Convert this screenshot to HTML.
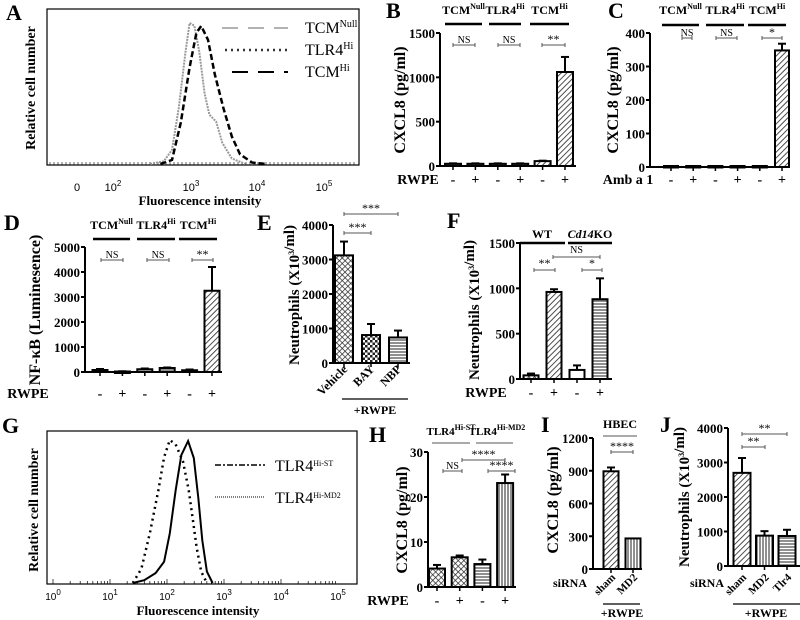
<!DOCTYPE html>
<html><head><meta charset="utf-8">
<style>
html,body{margin:0;padding:0;background:#fff;}
svg{display:block;font-family:"Liberation Serif",serif;}
</style></head>
<body>
<svg id="fig" width="800" height="620" viewBox="0 0 800 620" xmlns="http://www.w3.org/2000/svg">
<defs>
<pattern id="diag" width="4" height="4" patternUnits="userSpaceOnUse" patternTransform="rotate(45)"><rect width="4" height="4" fill="#fff"/><line x1="0" y1="0" x2="0" y2="4" stroke="#222" stroke-width="1.6"/></pattern>
<pattern id="cross" width="4" height="4" patternUnits="userSpaceOnUse" patternTransform="rotate(45)"><rect width="4" height="4" fill="#fff"/><line x1="0" y1="0" x2="0" y2="4" stroke="#222" stroke-width="1.4"/><line x1="0" y1="0" x2="4" y2="0" stroke="#222" stroke-width="1.4"/></pattern>
<pattern id="check" width="5" height="5" patternUnits="userSpaceOnUse"><rect width="5" height="5" fill="#fff"/><rect width="2.5" height="2.5" fill="#222"/><rect x="2.5" y="2.5" width="2.5" height="2.5" fill="#222"/></pattern>
<pattern id="hl" width="4" height="3" patternUnits="userSpaceOnUse"><rect width="4" height="3" fill="#fff"/><line x1="0" y1="1" x2="4" y2="1" stroke="#222" stroke-width="1"/></pattern>
<pattern id="vl" width="3" height="4" patternUnits="userSpaceOnUse"><rect width="3" height="4" fill="#fff"/><line x1="1" y1="0" x2="1" y2="4" stroke="#222" stroke-width="1"/></pattern>
</defs>
</svg>
<script>
// ---- data ----
const bVals=[25,25,25,25,55,1060], bErr=[5,5,5,5,5,170];
const cVals=[3,3,3,3,3,348], cErr=[0,0,0,0,0,20];
const dVals=[80,20,110,160,70,3250], dErr=[40,10,30,20,30,950];
const eVals=[3120,810,740], eErr=[400,320,200];
const fVals=[40,960,100,880], fErr=[20,30,50,230];
const hVals=[4.1,6.6,5.1,23.1], hErr=[0.8,0.4,1.0,1.9];
const iVals=[895,280], iErr=[35,0];
const jVals=[2700,880,870], jErr=[430,130,180];
const bTicks=[0,500,1000,1500], cTicks=[0,100,200,300,400], dTicks=[0,1000,2000,3000,4000,5000];
const eTicks=[0,1000,2000,3000,4000], fTicks=[0,500,1000,1500], hTicks=[0,10,20,30];
const iTicks=[0,300,600,900,1200], jTicks=[0,1000,2000,3000,4000];
const aNull=[[2.4,0],[2.6,0.02],[2.72,0.1],[2.82,0.4],[2.92,0.8],[2.98,1],[3.05,0.98],[3.12,0.8],[3.2,0.5],[3.27,0.35],[3.37,0.3],[3.46,0.15],[3.6,0.04],[3.8,0]];
const aHi=[[2.55,0],[2.72,0.03],[2.85,0.3],[2.98,0.7],[3.08,0.95],[3.15,1],[3.25,0.9],[3.35,0.65],[3.48,0.4],[3.6,0.2],[3.72,0.07],[3.9,0.01],[4.1,0]];
const gMD2=[[1.4,0],[1.55,0.1],[1.7,0.35],[1.85,0.65],[1.95,0.88],[2.05,1],[2.15,0.97],[2.28,0.85],[2.38,0.65],[2.45,0.45],[2.52,0.25],[2.6,0.08],[2.7,0]];
const gST=[[1.4,0],[1.6,0.02],[1.8,0.07],[1.95,0.15],[2.05,0.35],[2.15,0.65],[2.25,0.9],[2.37,1],[2.47,0.88],[2.55,0.6],[2.62,0.3],[2.7,0.08],[2.8,0]];

const S=document.getElementById('fig');
const NS='http://www.w3.org/2000/svg';
function mk(tag,a,p){const e=document.createElementNS(NS,tag);for(const k in a)e.setAttribute(k,a[k]);(p||S).appendChild(e);return e;}
function txt(x,y,s,o,p){const e=mk('text',Object.assign({x:x,y:y,'font-size':13,'font-weight':'bold','text-anchor':'middle'},o||{}),p);e.innerHTML=s;return e;}

function barPanel(name,ax,y0,yTop,max,ticks,vals,errs,fills,first,step,w,xEnd){
  const g=mk('g',{});
  
  
  const sy=v=>y0-(v/max)*(y0-yTop);
  const ya=mk('line',{x1:ax,y1:yTop,x2:ax,y2:y0,stroke:'#000','stroke-width':2},g);
  
  
  const xa=mk('line',{x1:ax,y1:y0,x2:xEnd,y2:y0,stroke:'#000','stroke-width':2},g);
  
  
  ticks.forEach(t=>{
    mk('line',{x1:ax-4,y1:sy(t),x2:ax,y2:sy(t),stroke:'#000','stroke-width':2},g);
    const tl=txt(ax-5,sy(t)+5,t,{'text-anchor':'end','font-size':13},g);
    
    
  });
  vals.forEach((v,i)=>{
    const cx=first+i*step;
    mk('line',{x1:cx,y1:y0,x2:cx,y2:y0+4,stroke:'#000','stroke-width':1.5},g);
    const top=sy(v+errs[i]);
    if(errs[i]>0){
      mk('line',{x1:cx,y1:sy(v),x2:cx,y2:top,stroke:'#000','stroke-width':2},g);
      mk('line',{x1:cx-4,y1:top,x2:cx+4,y2:top,stroke:'#000','stroke-width':2},g);
    }
    const r=mk('rect',{x:cx-w/2,y:sy(v),width:w,height:Math.max(y0-sy(v),1.5),fill:fills[i],stroke:'#000','stroke-width':2},g);
    
    
  });
  return g;
}
function line(x1,y1,x2,y2,sw,c){return mk('line',{x1:x1,y1:y1,x2:x2,y2:y2,stroke:c||'#000','stroke-width':sw||1});}
function bracket(x1,x2,y,lab,ly){line(x1,y,x2,y,1,'#555');line(x1,y-2,x1,y+2,1,'#555');line(x2,y-2,x2,y+2,1,'#555');const t=txt((x1+x2)/2,ly||y-2,lab,{'font-size':lab=='NS'?10:12,'font-weight':'normal'});}
function letter(x,y,s){const t=txt(x,y,s,{'font-size':22,'text-anchor':'start'});}
function ylab(x,y,s,fs){const t=txt(x,y,s,{'font-size':fs||15,transform:'rotate(-90 '+x+' '+y+')'});}
function rowLabels(xs,y,labs){labs.forEach((l,i)=>{const t=txt(xs[i],y,l,{'font-size':14});});}
function curve(pts,xf,y0,yTop,o,name){const d=pts.map((p,i)=>(i?'L':'M')+xf(p[0]).toFixed(1)+' '+(y0-p[1]*(y0-yTop)).toFixed(1)).join(' ');const e=mk('path',Object.assign({d:d,fill:'none'},o));}
function seq(first,step,n){const a=[];for(let i=0;i<n;i++)a.push(first+i*step);return a;}
const pm=['-','+','-','+','-','+'];

// ---- Panel A ----
letter(6,20,'A');
const fa=mk('rect',{x:47,y:9,width:312,height:156,fill:'none',stroke:'#000','stroke-width':1.2});


for(let x=50;x<358;x+=4)line(x,165,x,162,0.6);
const ax=l=>191+(l-3)*68;
curve(aNull,ax,164,23,{stroke:'#999','stroke-width':2,'stroke-dasharray':'2 1'},'curve-tcm-null');
curve(aHi,ax,164,26,{stroke:'#000','stroke-width':2.5,'stroke-dasharray':'6 3'},'curve-tcm-hi');
[['0',77],['10<tspan dy="-5" font-size="8">2</tspan>',113],['10<tspan dy="-5" font-size="8">3</tspan>',191],['10<tspan dy="-5" font-size="8">4</tspan>',257],['10<tspan dy="-5" font-size="8">5</tspan>',324]].forEach(a=>{const t=txt(a[1],191,a[0],{'font-size':11,'font-weight':'normal','font-family':'Liberation Sans'});});
{const t=txt(200,205,'Fluorescence intensity',{'font-size':13});}
ylab(35,88,'Relative cell number',14);
line(222,28,288,28,1.5,'#999').setAttribute('stroke-dasharray','16 10');
line(225,50,288,50,2.5,'#333').setAttribute('stroke-dasharray','2 4');
line(232,72,288,72,2,'#000').setAttribute('stroke-dasharray','16 10');
[['TCM<tspan dy="-6" font-size="10">Null</tspan>',33],['TLR4<tspan dy="-6" font-size="10">Hi</tspan>',55],['TCM<tspan dy="-6" font-size="10">Hi</tspan>',77]].forEach(a=>{const t=txt(305,a[1],a[0],{'font-size':16,'font-weight':'normal','text-anchor':'start'});});

function groupHdr(items,yT,yL){items.forEach(a=>{line(a[1],yL,a[2],yL,2.5);const t=txt((a[1]+a[2])/2,yT,a[0],{'font-size':12});});}
const sup=(b,s)=>b+'<tspan dy="-5" font-size="8">'+s+'</tspan>';

// ---- Panel B ----
letter(386,18,'B');
barPanel('b',440,166,33,1500,bTicks,bVals,bErr,['#555','#555','#555','#555','url(#diag)','url(#diag)'],453,22.4,16,576);
groupHdr([[sup('TCM','Null'),445,482],[sup('TLR4','Hi'),489,521],[sup('TCM','Hi'),530,569]],14,24);
bracket(453,475,45,'NS');bracket(498,520,45,'NS');bracket(542,565,45,'**');
txt(418,184,'RWPE',{'font-size':14,'text-anchor':'middle'});
rowLabels(seq(453,22.4,6),184,pm);
ylab(405,100,'CXCL8 (pg/ml)',16);

// ---- Panel C ----
letter(608,18,'C');
barPanel('c',650,167,33,400,cTicks,cVals,cErr,['#555','#555','#555','#555','#555','url(#diag)'],671,22.2,14,790);
groupHdr([[sup('TCM','Null'),662,699],[sup('TLR4','Hi'),706,744],[sup('TCM','Hi'),748,786]],14,25);
bracket(682,692,38,'NS',36);bracket(716,737,38,'NS',36);bracket(762,782,38,'*',36);
txt(628,184,'Amb a 1',{'font-size':14});
rowLabels(seq(671,22.2,6),184,pm);
ylab(618,100,'CXCL8 (pg/ml)',16);

// ---- Panel D ----
letter(4,230,'D');
barPanel('d',85,372,247,5000,dTicks,dVals,dErr,['#fff','#fff','url(#hl)','url(#hl)','url(#hl)','url(#diag)'],100,22.4,15,222);
groupHdr([[sup('TCM','Null'),93,130],[sup('TLR4','Hi'),137,175],[sup('TCM','Hi'),179,217]],229,239);
bracket(101,123,260,'NS');bracket(147,169,260,'NS');bracket(192,213,260,'**');
txt(28,398,'RWPE',{'font-size':14});
rowLabels(seq(100,22.4,6),398,pm);
ylab(40,310,'NF-κB (Luminesence)',16);

// ---- Panel E ----
letter(257,230,'E');
barPanel('e',333,363,225,4000,eTicks,eVals,eErr,['url(#cross)','url(#check)','url(#hl)'],344,27,18,410);
bracket(344,398,214,'***');bracket(344,371,233,'***');
['Vehicle','BAY','NBP'].forEach((l,i)=>{const x=344+i*27+4;const t=txt(x,370,l,{'font-size':12,'text-anchor':'end',transform:'rotate(-45 '+x+' 370)'});});
line(342,399,408,399,1.2);
txt(375,414,'+RWPE',{'font-size':12});
ylab(299,295,sup('Neutrophils (X10','3')+'/ml)',15);

// ---- Panel F ----
letter(447,228,'F');
barPanel('f',520,379,243,1500,fTicks,fVals,fErr,['url(#cross)','url(#diag)','#fff','url(#hl)'],531,23,15,612);
line(520,243,565,243,2.5);line(568,243,612,243,2.5);
txt(542,238,'WT',{'font-size':12});txt(590,238,'<tspan font-style="italic">Cd14</tspan>KO',{'font-size':12});
bracket(553,600,257,'NS',253);bracket(534,555,270,'**',267);bracket(582,602,270,'*',267);
txt(486,397,'RWPE',{'font-size':14});
rowLabels(seq(531,23,4),397,['-','+','-','+']);
ylab(479,310,sup('Neutrophils (X10','3')+'/ml)',15);

// ---- Panel G ----
letter(2,433,'G');
const fg=mk('rect',{x:47,y:431,width:310,height:153,fill:'none',stroke:'#000','stroke-width':1.2});


const gx=l=>53+57*l;
for(let d=0;d<5;d++)for(let k=1;k<10;k++){const x=gx(d+Math.log10(k));line(x,584,x,k==1?579:581,0.7);}
curve(gMD2,gx,583,440,{stroke:'#000','stroke-width':2.5,'stroke-dasharray':'2 4'},'curve-tlr4-hi-md2');
curve(gST,gx,583,441,{stroke:'#000','stroke-width':2},'curve-tlr4-hi-st');
for(let d=0;d<6;d++){const t=txt(gx(d),600,sup('10',d),{'font-size':10,'font-weight':'normal','font-family':'Liberation Sans'});}
{const t=txt(198,615,'Fluorescence intensity',{'font-size':13});}
ylab(38,510,'Relative cell number',14);
line(215,465,265,465,1.5).setAttribute('stroke-dasharray','6 2 2 2');
line(215,497,265,497,1.5,'#555').setAttribute('stroke-dasharray','1 1');
txt(275,471,sup('TLR4','Hi-ST'),{'font-size':16,'font-weight':'normal','text-anchor':'start'});
txt(275,503,sup('TLR4','Hi-MD2'),{'font-size':16,'font-weight':'normal','text-anchor':'start'});

// ---- Panel H ----
letter(369,442,'H');
barPanel('h',428,587,452,30,hTicks,hVals,hErr,['url(#cross)','url(#cross)','url(#hl)','url(#vl)'],437,22.7,16,516);
line(432,443,470,443,1,'#555');line(476,443,513,443,1,'#555');
txt(451,435,sup('TLR4','Hi-ST'),{'font-size':11});txt(497,435,sup('TLR4','Hi-MD2'),{'font-size':11});
bracket(462,505,460,'****');bracket(443,462,471,'NS',469);bracket(488,515,471,'****');
txt(388,605,'RWPE',{'font-size':14});
rowLabels(seq(437,22.7,4),605,['-','+','-','+']);
ylab(407,520,'CXCL8 (pg/ml)',16);

// ---- Panel I ----
letter(541,432,'I');
barPanel('i',593,569,438,1200,iTicks,iVals,iErr,['url(#diag)','url(#vl)'],611,22,15,642);
txt(620,428,'HBEC',{'font-size':12});line(603,436,637,436,1,'#555');
bracket(611,633,452,'****');
txt(570,587,'siRNA',{'font-size':12});
['sham','MD2'].forEach((l,i)=>{const x=611+i*22+5;const t=txt(x,578,l,{'font-size':11,'text-anchor':'end',transform:'rotate(-45 '+x+' 578)'});});
line(603,604,640,604,1.2);txt(622,617,'+RWPE',{'font-size':12});
ylab(558,500,'CXCL8 (pg/ml)',16);

// ---- Panel J ----
letter(660,432,'J');
barPanel('j',728,566,428,4000,jTicks,jVals,jErr,['url(#diag)','url(#vl)','url(#hl)'],742,22.5,17,800);
bracket(742,787,434,'**');bracket(742,765,447,'**');
txt(707,587,'siRNA',{'font-size':12});
['sham','MD2','Tlr4'].forEach((l,i)=>{const x=742+i*22.5+5;const t=txt(x,578,l,{'font-size':11,'text-anchor':'end',transform:'rotate(-45 '+x+' 578)'});});
line(733,604,800,604,1.2);txt(766,617,'+RWPE',{'font-size':12});
ylab(689,497,sup('Neutrophils (X10','3')+'/ml)',15);
</script>
</body></html>
